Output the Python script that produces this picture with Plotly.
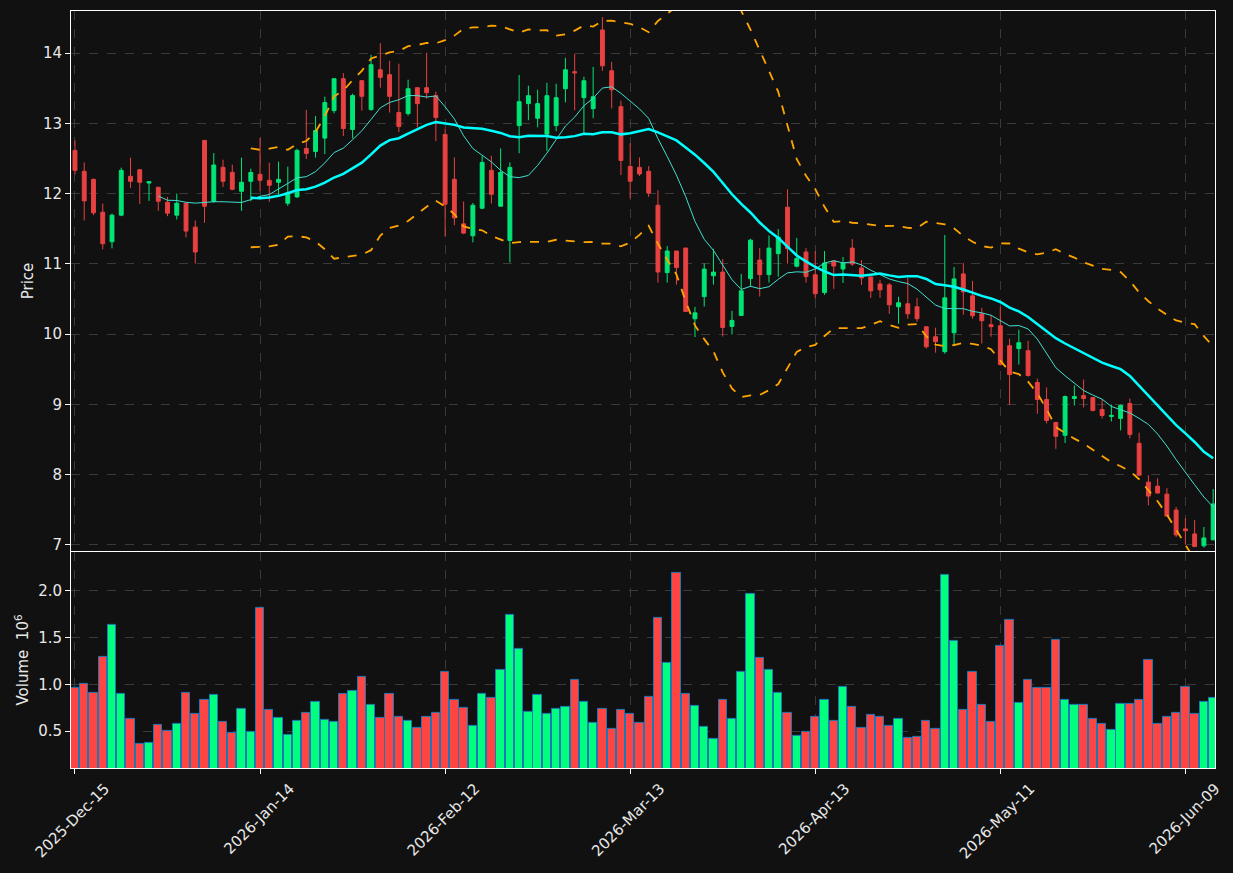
import pandas as pd
import plotly.graph_objects as go

# ---- data -------------------------------------------------------------
holidays = ["2025-12-25", "2026-01-01", "2026-01-19", "2026-02-16", "2026-04-03", "2026-05-25"]
dates = pd.date_range("2025-12-15", periods=124,
                      freq=pd.offsets.CustomBusinessDay(holidays=holidays))

open_ = [12.615, 12.317, 12.203, 11.735, 11.314, 11.693, 12.246, 12.340, 12.150, 12.090,
         11.877, 11.693, 11.863, 11.522, 12.757, 11.891, 12.374, 12.303, 12.033, 12.175,
         12.274, 12.189, 12.161, 11.863, 11.953, 12.643, 12.600, 12.790, 13.182, 13.636,
         12.913, 13.608, 13.196, 13.764, 13.693, 13.154, 13.139, 13.508, 13.508, 13.395,
         12.842, 12.203, 11.569, 11.399, 11.792, 12.331, 11.820, 11.333, 12.968, 13.281,
         13.073, 12.846, 12.968, 13.493, 13.735, 13.366, 13.209, 14.330, 13.749, 13.238,
         12.387, 12.373, 12.317, 11.834, 10.875, 11.182, 11.225, 10.217, 10.533, 10.830,
         10.882, 10.109, 10.265, 10.789, 11.054, 10.846, 11.144, 11.806, 10.966, 11.168,
         10.844, 10.590, 11.040, 10.926, 11.224, 10.941, 10.813, 10.714, 10.700, 10.388,
         10.431, 10.388, 10.104, 9.962, 9.749, 10.018, 10.856, 10.544, 10.288, 10.133,
         10.118, 9.834, 9.792, 9.763, 9.310, 9.068, 8.742, 8.558, 9.082, 9.125,
         9.096, 8.926, 8.827, 8.798, 9.011, 8.444, 7.891, 7.834, 7.720, 7.494,
         7.225, 7.154, 6.984, 7.069]
high = [12.757, 12.444, 12.213, 11.858, 11.716, 12.369, 12.511, 12.340, 12.175, 12.090,
        11.953, 12.000, 11.863, 11.617, 12.757, 12.577, 12.482, 12.411, 12.511, 12.355,
        12.794, 12.440, 12.454, 12.383, 12.638, 13.191, 13.106, 13.381, 13.636, 13.716,
        13.423, 13.608, 13.976, 14.142, 13.891, 13.849, 13.622, 13.508, 14.005, 13.452,
        12.927, 12.515, 11.886, 11.867, 12.539, 12.539, 12.643, 12.444, 13.690, 13.536,
        13.479, 13.578, 13.564, 13.933, 13.990, 13.664, 13.805, 14.514, 13.876, 13.323,
        12.718, 12.515, 12.392, 12.047, 11.253, 11.182, 11.225, 10.387, 11.006, 11.213,
        11.070, 10.330, 10.856, 11.356, 11.224, 11.404, 11.494, 12.061, 11.370, 11.224,
        11.182, 11.182, 11.040, 11.097, 11.352, 11.054, 10.813, 10.771, 10.728, 10.530,
        10.799, 10.515, 10.104, 10.090, 11.409, 10.955, 11.012, 10.757, 10.374, 10.274,
        10.388, 9.934, 10.061, 9.905, 9.366, 9.239, 8.742, 9.125, 9.267, 9.352,
        9.096, 9.068, 8.997, 8.997, 9.082, 8.595, 7.990, 7.947, 7.806, 7.537,
        7.381, 7.352, 7.253, 7.793]
low = [12.274, 11.617, 11.693, 11.206, 11.220, 11.678, 12.080, 11.853, 11.896, 11.754,
       11.678, 11.631, 11.376, 11.002, 11.584, 11.868, 12.095, 12.047, 11.754, 11.891,
       12.035, 11.882, 11.986, 11.825, 11.939, 12.492, 12.511, 12.563, 13.144, 12.818,
       12.785, 13.182, 13.182, 13.508, 13.154, 12.875, 13.111, 12.941, 13.352, 12.747,
       11.385, 11.550, 11.423, 11.305, 11.777, 11.858, 11.820, 11.020, 12.574, 13.045,
       12.944, 12.605, 12.888, 13.299, 13.186, 12.865, 13.073, 13.749, 13.214, 12.264,
       11.930, 12.250, 11.953, 10.733, 10.733, 10.704, 10.322, 9.957, 10.392, 10.704,
       9.965, 9.994, 10.265, 10.675, 10.533, 10.733, 10.817, 11.003, 10.948, 10.733,
       10.505, 10.557, 10.643, 10.728, 10.969, 10.700, 10.515, 10.515, 10.288, 10.147,
       10.218, 10.175, 9.792, 9.735, 9.721, 9.834, 10.274, 10.218, 9.863, 9.962,
       9.551, 8.990, 9.565, 9.395, 8.865, 8.727, 8.365, 8.449, 8.983, 8.955,
       8.898, 8.798, 8.756, 8.628, 8.515, 7.990, 7.560, 7.735, 7.408, 7.111,
       6.999, 6.974, 6.960, 7.069]
close = [12.331, 11.896, 11.726, 11.286, 11.693, 12.331, 12.175, 12.161, 12.170, 11.891,
         11.721, 11.863, 11.466, 11.168, 11.820, 12.407, 12.175, 12.061, 12.161, 12.300,
         12.189, 12.118, 12.203, 12.014, 12.615, 12.572, 12.898, 13.296, 13.636, 12.927,
         13.395, 13.385, 13.835, 13.655, 13.385, 12.955, 13.494, 13.281, 13.437, 13.083,
         11.849, 11.654, 11.437, 11.834, 12.444, 11.990, 12.302, 12.373, 13.309, 13.394,
         13.281, 13.394, 13.366, 13.763, 13.720, 13.607, 13.379, 13.820, 13.479, 12.472,
         12.177, 12.279, 12.009, 10.884, 11.182, 10.946, 10.322, 10.302, 10.925, 10.882,
         10.093, 10.194, 10.615, 11.337, 10.846, 11.224, 11.380, 11.215, 11.074, 10.818,
         10.574, 11.012, 10.969, 11.012, 10.997, 10.799, 10.615, 10.629, 10.416, 10.445,
         10.288, 10.218, 9.820, 9.891, 10.515, 10.785, 10.601, 10.260, 10.189, 10.104,
         9.565, 9.423, 9.877, 9.409, 9.068, 8.770, 8.544, 9.110, 9.110, 9.082,
         8.912, 8.841, 8.841, 8.983, 8.571, 7.990, 7.692, 7.735, 7.408, 7.140,
         7.200, 6.974, 7.097, 7.580]
volume = [0.968, 1.011, 0.915, 1.298, 1.638, 0.894, 0.635, 0.362, 0.372, 0.564,
          0.500, 0.574, 0.915, 0.681, 0.830, 0.883, 0.596, 0.479, 0.734, 0.489,
          1.819, 0.723, 0.638, 0.457, 0.606, 0.691, 0.809, 0.617, 0.596, 0.894,
          0.926, 1.085, 0.777, 0.638, 0.894, 0.649, 0.606, 0.532, 0.649, 0.691,
          1.138, 0.830, 0.745, 0.553, 0.894, 0.851, 1.160, 1.745, 1.383, 0.702,
          0.883, 0.681, 0.734, 0.755, 1.053, 0.809, 0.585, 0.734, 0.521, 0.723,
          0.681, 0.585, 0.862, 1.713, 1.234, 2.191, 0.904, 0.766, 0.543, 0.415,
          0.830, 0.628, 1.138, 1.968, 1.287, 1.160, 0.915, 0.691, 0.447, 0.489,
          0.649, 0.840, 0.606, 0.979, 0.755, 0.532, 0.670, 0.649, 0.553, 0.628,
          0.426, 0.436, 0.606, 0.521, 2.170, 1.468, 0.723, 1.138, 0.777, 0.596,
          1.415, 1.691, 0.798, 1.053, 0.968, 0.968, 1.479, 0.840, 0.777, 0.777,
          0.628, 0.574, 0.511, 0.787, 0.787, 0.840, 1.266, 0.574, 0.649, 0.691,
          0.979, 0.681, 0.809, 0.851]

tick_every = 20

# ---- derived ----------------------------------------------------------
idx = list(range(len(close)))
cs = pd.Series(close)
sma10 = cs.rolling(10).mean()
sma20 = cs.rolling(20).mean()
std20 = cs.rolling(20).std()
bb_up = sma20 + 2 * std20
bb_lo = sma20 - 2 * std20

UP, DOWN = "#00ff7f", "#ff4444"
vol_colors = [UP if c >= o else DOWN for o, c in zip(open_, close)]
tickvals = idx[::tick_every]
ticktext = [dates[i].strftime("%Y-%b-%d") for i in tickvals]

BG = "#111111"
FONT = "DejaVu Sans"
GRID = "#3a3a3a"
TXT = "#e8e8e8"
FS = 15

fig = go.Figure()
fig.add_trace(go.Candlestick(
    x=idx, open=open_, high=high, low=low, close=close,
    increasing=dict(line=dict(color="#00e676", width=1), fillcolor="#00e676"),
    decreasing=dict(line=dict(color="#e84141", width=1), fillcolor="#e84141"),
    whiskerwidth=0, xaxis="x2", yaxis="y", showlegend=False))
fig.add_trace(go.Scatter(x=idx, y=bb_up, mode="lines", xaxis="x2", yaxis="y",
                         line=dict(color="#ffa500", width=1.8, dash="dash"), showlegend=False))
fig.add_trace(go.Scatter(x=idx, y=bb_lo, mode="lines", xaxis="x2", yaxis="y",
                         line=dict(color="#ffa500", width=1.8, dash="dash"), showlegend=False))
fig.add_trace(go.Scatter(x=idx, y=sma10, mode="lines", xaxis="x2", yaxis="y",
                         line=dict(color="#40e0d0", width=1), showlegend=False))
fig.add_trace(go.Scatter(x=idx, y=sma20, mode="lines", xaxis="x2", yaxis="y",
                         line=dict(color="#00ffff", width=2.5), showlegend=False))
fig.add_trace(go.Bar(x=idx, y=volume, width=0.9, xaxis="x", yaxis="y2",
                     marker=dict(color=vol_colors, line=dict(color="#1f77b4", width=1)),
                     showlegend=False))

axis_common = dict(showline=True, mirror=True, linecolor="white", linewidth=1,
                   showgrid=True, gridcolor=GRID, griddash="dash", gridwidth=1,
                   zeroline=False, tickfont=dict(family=FONT, size=FS, color=TXT))

fig.update_layout(
    width=1233, height=873,
    margin=dict(l=71, r=17, t=10, b=103),
    paper_bgcolor=BG, plot_bgcolor=BG,
    font=dict(family=FONT, color=TXT, size=FS),
    boxgap=0.4,
    bargap=0,
    xaxis=dict(domain=[0, 1], anchor="y2", range=[-0.43, 123.2],
               tickmode="array", tickvals=tickvals, ticktext=ticktext,
               tickangle=-45, ticks="outside", ticklen=5, tickcolor="white",
               ticklabelshift=30,
               rangeslider=dict(visible=False), **axis_common),
    xaxis2=dict(domain=[0, 1], anchor="y", matches="x", range=[-0.43, 123.2],
                tickmode="array", tickvals=tickvals, showticklabels=False,
                ticks="", rangeslider=dict(visible=False), **axis_common),
    yaxis=dict(domain=[0.2868, 1], anchor="x2", range=[6.912, 14.60],
               dtick=1, ticks="outside", ticklen=5, tickcolor="white",
               title=dict(text="Price", font=dict(family=FONT, size=FS, color=TXT), standoff=5),
               **axis_common),
    yaxis2=dict(domain=[0, 0.2855], anchor="x", range=[0.106, 2.418],
                tickvals=[0.5, 1.0, 1.5, 2.0], tickformat=".1f",
                ticks="outside", ticklen=5, tickcolor="white",
                title=dict(text="Volume  10<sup>6</sup>", font=dict(family=FONT, size=FS, color=TXT), standoff=5),
                **axis_common),
)

fig.write_html("out.html")
